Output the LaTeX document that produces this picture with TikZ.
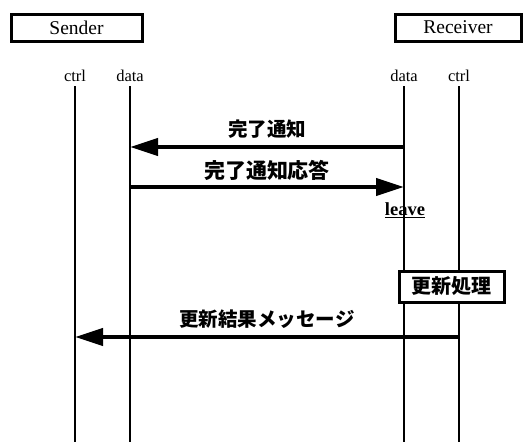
\documentclass[tikz,border=0pt]{standalone}
\usepackage{fontspec}
\setmainfont{Liberation Serif}
\newfontfamily\jpfont{Noto Sans CJK JP}
\usetikzlibrary{arrows.meta, positioning}

\begin{document}
\begin{tikzpicture}[x=1pt, y=-1pt, thick, node distance=55pt, >={Triangle[length=28pt, width=17pt]}]
		
		% Define block styles
		\tikzstyle{entity} = [rectangle, draw, line width=3pt, minimum width=131pt, minimum height=27pt, font=\fontsize{19.5}{19.5}\selectfont, text centered]
		\tikzstyle{port} = [font=\fontsize{16.5}{16.5}\selectfont, inner sep=1pt]
		\tikzstyle{lifeline} = [line width=1.1pt, shorten <=3pt]
		\tikzstyle{msg} = [->, line width=4pt]
		\tikzstyle{msglabel} = [above=3pt, font=\jpfont\bfseries\fontsize{19.5}{19.5}\selectfont]
		\tikzstyle{process} = [rectangle, draw, line width=3pt, fill=white, minimum width=105pt, minimum height=31pt, font=\jpfont\bfseries\fontsize{20}{20}\selectfont, text centered]
		
		\useasboundingbox (0,0) rectangle (523,442);
		
		% Nodes
		\node[entity] (sender) at (76.5,27.5) {Sender};
		\node[entity, minimum width=126pt] (receiver) at (458,27.5) {Receiver};
		\node[port] (sctrl) at (75,76) {ctrl};
		\node[port, right of=sctrl] (sdata) {data};
		\node[port] (rdata) at (404,76) {data};
		\node[port, right of=rdata] (rctrl) {ctrl};
		\coordinate (bottom) at (0,442);
		
		% Lifelines
		\draw[lifeline] (sctrl.south) -- (sctrl |- bottom);
		\draw[lifeline] (sdata.south) -- (sdata |- bottom);
		\draw[lifeline] (rdata.south) -- (rdata |- bottom);
		\draw[lifeline] (rctrl.south) -- (rctrl |- bottom);
		
		% Arrows
		\coordinate (m1) at (0,147);
		\coordinate (m2) at (0,187);
		\coordinate (m3) at (0,337);
		\draw[msg] (rdata |- m1) -- node[msglabel] {完了通知} (sdata |- m1);
		\draw[msg] (sdata |- m2) -- node[msglabel, above=1pt, font=\jpfont\bfseries\fontsize{21}{21}\selectfont] {完了通知応答} (rdata |- m2);
		\draw[msg] (rctrl |- m3) -- node[msglabel] {更新結果メッセージ} (sctrl |- m3);
		
		% Labels
		\node[font=\bfseries\fontsize{18.5}{18.5}\selectfont] (leave) at (405,210) {\underline{leave}};
		\node[process] (update) at (451.5,286.5) {更新処理};
		
	\end{tikzpicture}
\end{document}
